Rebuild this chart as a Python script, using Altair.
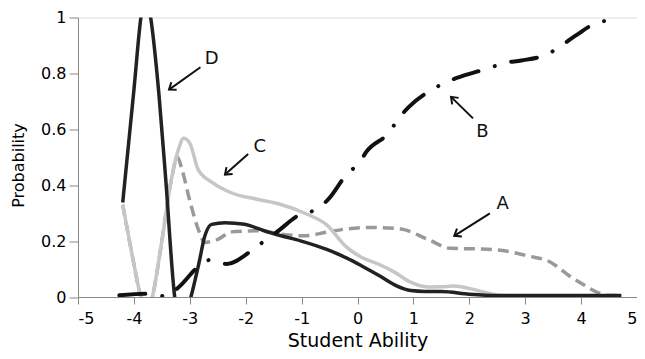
import math
import altair as alt
import pandas as pd

# ---- data ----
A_X = [-4.2, -4.05, -3.875, -3.77, -3.67, -3.5, -3.34, -3.22, -3.14, -2.99, -2.85, -2.73, -2.6, -2.49,
       -2.26, -1.78, -1.37, -0.96, -0.55, -0.22, 0.25, 0.78, 1.25, 1.66, 2.13, 2.6, 3.07, 3.43, 3.78,
       4.07, 4.31, 4.5, 4.7]
A_Y = [0.33, 0.17, 0.0, -0.06, 0.0, 0.2, 0.41, 0.5, 0.456, 0.337, 0.243, 0.195, 0.2, 0.207,
       0.233, 0.237, 0.225, 0.219, 0.232, 0.243, 0.249, 0.243, 0.207, 0.174, 0.172, 0.166, 0.146, 0.127, 0.077,
       0.041, 0.015, 0.005, 0.005]

B_X = [-4.26, -3.8, -3.43, -3.2, -2.84, -2.63, -2.34, -1.9, -1.67, -1.46, -1.02, -0.74, -0.52, -0.19,
       0.03, 0.16, 0.57, 0.74, 0.92, 1.37, 1.6, 1.87, 2.37, 2.64, 2.93, 3.43, 3.67, 3.9, 4.37, 4.65]
B_Y = [0.006, 0.012, 0.003, 0.035, 0.11, 0.133, 0.118, 0.165, 0.2, 0.23, 0.296, 0.313, 0.35, 0.44,
       0.48, 0.52, 0.59, 0.64, 0.68, 0.746, 0.77, 0.79, 0.82, 0.838, 0.846, 0.872, 0.903, 0.935, 0.986, 0.99]

C_X = [-4.2, -4.05, -3.875, -3.77, -3.67, -3.5, -3.34, -3.2, -3.11, -3.0, -2.85, -2.6, -2.26, -1.78,
       -1.37, -0.9, -0.55, -0.22, 0.07, 0.37, 0.66, 0.95, 1.25, 1.5, 1.72, 2.01, 2.31, 2.6, 3.0, 4.0, 4.7]
C_Y = [0.33, 0.17, 0.0, -0.06, 0.0, 0.2, 0.41, 0.53, 0.568, 0.55, 0.456, 0.41, 0.373, 0.349,
       0.331, 0.296, 0.258, 0.183, 0.142, 0.118, 0.089, 0.053, 0.036, 0.037, 0.039, 0.03, 0.015, 0.005,
       0.004, 0.004, 0.004]

D_X = [-4.2, -4.0, -3.875, -3.79, -3.7, -3.55, -3.43, -3.27, -3.15, -2.98, -2.84, -2.73, -2.61, -2.37,
       -2.02, -1.67, -1.37, -1.02, -0.55, -0.2, 0.07, 0.4, 0.7, 0.95, 1.2, 1.5, 2.0, 2.5, 3.0, 3.5, 4.0, 4.72]
D_Y = [0.338, 0.74, 1.0, 1.09, 1.0, 0.72, 0.42, 0.0, -0.1, 0.0, 0.118, 0.219, 0.26, 0.266,
       0.26, 0.237, 0.219, 0.201, 0.17, 0.14, 0.112, 0.075, 0.04, 0.023, 0.02, 0.02, 0.01, 0.005,
       0.005, 0.005, 0.005, 0.005]

LABELS = ["A", "B", "C", "D"]
LABEL_X = [2.598, 2.233, -1.749, -2.61]
LABEL_Y = [0.331, 0.591, 0.538, 0.853]
TAIL_X = [2.368, 2.067, -1.956, -2.81]
TAIL_Y = [0.299, 0.639, 0.512, 0.822]
HEAD_X = [1.731, 1.673, -2.37, -3.372]
HEAD_Y = [0.219, 0.716, 0.438, 0.742]

X_TICKS = [-5, -4, -3, -2, -1, 0, 1, 2, 3, 4, 5]
Y_TICKS = [0, 0.2, 0.4, 0.6, 0.8, 1]

W, H = 559, 279.5
FONT = "DejaVu Sans"

rows = []
for name, xs_, ys_ in [("A", A_X, A_Y), ("B", B_X, B_Y), ("C", C_X, C_Y), ("D", D_X, D_Y)]:
    for x, y in zip(xs_, ys_):
        rows.append({"series": name, "x": x, "y": y})
curves = pd.DataFrame(rows)

ang = []
for tx, ty, hx, hy in zip(TAIL_X, TAIL_Y, HEAD_X, HEAD_Y):
    dx = (hx - tx) * W / 10.0
    dy = -(hy - ty) * H
    ang.append(math.degrees(math.atan2(dx, -dy)) % 360)
arrows = pd.DataFrame({"label": LABELS, "lx": LABEL_X, "ly": LABEL_Y, "tx": TAIL_X, "ty": TAIL_Y,
                       "hx": HEAD_X, "hy": HEAD_Y, "angle": ang})

xs = alt.Scale(domain=[-5, 5], nice=False, zero=False)
ys = alt.Scale(domain=[0, 1], nice=False, zero=False)

x_axis = alt.Axis(values=X_TICKS, labelExpr="'' + datum.value", title="Student Ability", grid=False,
                  tickSize=7, labelPadding=6, labelFontSize=16, titleFontSize=19,
                  labelFont=FONT, titleFont=FONT,
                  titleFontWeight="normal", titleBaseline="alphabetic", titleX=W / 2, titleY=49.5)
y_axis = alt.Axis(values=Y_TICKS, format="~g", title="Probability", grid=False,
                  tickSize=9, labelPadding=3, labelFontSize=16, titleFontSize=16,
                  labelFont=FONT, titleFont=FONT,
                  titleFontWeight="normal", titleX=-52, titleY=147.5)

base = alt.Chart(curves)


def curve(name, **mk):
    return base.transform_filter(alt.datum.series == name).mark_line(
        clip=True, interpolate="monotone", **mk
    ).encode(
        x=alt.X("x:Q", scale=xs, axis=x_axis),
        y=alt.Y("y:Q", scale=ys, axis=y_axis),
    )


lineA = curve("A", color="#999999", strokeWidth=3.5, strokeDash=[11, 6])
lineC = curve("C", color="#c6c6c6", strokeWidth=3.5)
lineD = curve("D", color="#222222", strokeWidth=3.5)
lineB = curve("B", color="#111111", strokeWidth=4, strokeDash=[26, 17, 0.1, 17], strokeCap="round")

ab = alt.Chart(arrows)
shafts = ab.mark_rule(color="#111111", strokeWidth=2).encode(
    x=alt.X("tx:Q", scale=xs), y=alt.Y("ty:Q", scale=ys), x2="hx:Q", y2="hy:Q"
)
heads = ab.mark_point(shape="M-0.75,1L0,0L0.75,1", filled=False, color="#111111",
                      strokeWidth=2, size=150, opacity=1).encode(
    x=alt.X("hx:Q", scale=xs), y=alt.Y("hy:Q", scale=ys), angle=alt.Angle("angle:Q", scale=None)
)
texts = ab.mark_text(font=FONT, fontSize=18, color="#111111", align="center", baseline="middle").encode(
    x=alt.X("lx:Q", scale=xs), y=alt.Y("ly:Q", scale=ys), text="label:N"
)

chart = alt.layer(lineA, lineC, lineD, lineB, shafts, heads, texts).properties(
    width=W, height=H,
    autosize=alt.AutoSizeParams(type="none"),
    padding={"left": 70, "top": 9.5, "right": 0, "bottom": 54},
).configure_view(
    stroke="#444444", strokeWidth=1
).configure_axis(
    labelFont=FONT, titleFont=FONT, labelColor="#1a1a1a", titleColor="#1a1a1a",
    domainColor="#222222", domainWidth=2, tickColor="#222222", tickWidth=1,
).configure(background="white", font=FONT)

chart.save("out.html", embed_options={"renderer": "svg", "actions": False})
